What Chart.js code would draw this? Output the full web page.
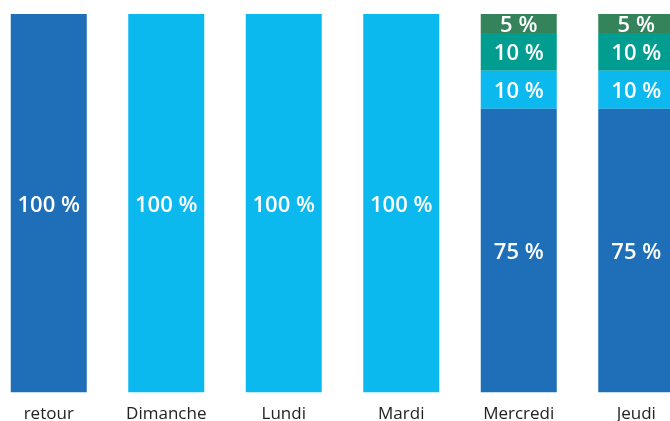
<!DOCTYPE html>
<html>
<head>
<meta charset="utf-8">
<script src="https://cdn.jsdelivr.net/npm/chart.js@4/dist/chart.umd.min.js"></script>
<style>
html,body{margin:0;padding:0;background:#fff;overflow:hidden;width:670px;height:421px;}
#wrap{position:absolute;left:-10px;top:0;width:705px;height:435px;}
</style>
</head>
<body>
<div id="wrap"><canvas id="c"></canvas></div>
<script>
const categories = ["retour", "Dimanche", "Lundi", "Mardi", "Mercredi", "Jeudi"];
const seriesA = [100, 0, 0, 0, 75, 75];
const seriesB = [0, 100, 100, 100, 10, 10];
const seriesC = [0, 0, 0, 0, 10, 10];
const seriesD = [0, 0, 0, 0, 5, 5];
const colors = ["#1e6fb7", "#0cb9ef", "#009d90", "#35835a"];

const labelPlugin = {
  id: "segLabels",
  afterDatasetsDraw(chart) {
    const ctx = chart.ctx;
    chart.data.datasets.forEach((ds, di) => {
      const meta = chart.getDatasetMeta(di);
      meta.data.forEach((bar, i) => {
        const v = ds.data[i];
        if (!v) return;
        const p = bar.getProps(["x", "y", "base", "width"], true);
        const top = Math.min(p.y, p.base), bot = Math.max(p.y, p.base);
        ctx.save();
        ctx.beginPath();
        ctx.rect(p.x - p.width / 2, top, p.width, bot - top);
        ctx.clip();
        ctx.fillStyle = "#ffffff";
        ctx.font = "600 22px 'Open Sans'";
        ctx.textAlign = "center";
        ctx.textBaseline = "alphabetic";
        ctx.fillText(v + " %", p.x, (top + bot) / 2 + 0.8 + 7.8);
        ctx.restore();
      });
    });
  }
};

new Chart(document.getElementById("c"), {
  type: "bar",
  data: {
    labels: categories,
    datasets: [
      { data: seriesA, backgroundColor: colors[0] },
      { data: seriesB, backgroundColor: colors[1] },
      { data: seriesC, backgroundColor: colors[2] },
      { data: seriesD, backgroundColor: colors[3] }
    ]
  },
  options: {
    responsive: true,
    maintainAspectRatio: false,
    animation: false,
    layout: { padding: { top: 14, left: 0, right: 0, bottom: 0 } },
    datasets: { bar: { barPercentage: 1, categoryPercentage: 0.647, borderWidth: 0 } },
    plugins: { legend: { display: false }, tooltip: { enabled: false } },
    scales: {
      x: {
        stacked: true,
        grid: { display: false, drawTicks: false },
        border: { display: false },
        ticks: { color: "#222222", font: { family: "'Open Sans'", size: 17 }, padding: 11, maxRotation: 0, autoSkip: false }
      },
      y: {
        stacked: true,
        display: false,
        min: 0,
        max: 100
      }
    }
  },
  plugins: [labelPlugin]
});
</script>
</body>
</html>
